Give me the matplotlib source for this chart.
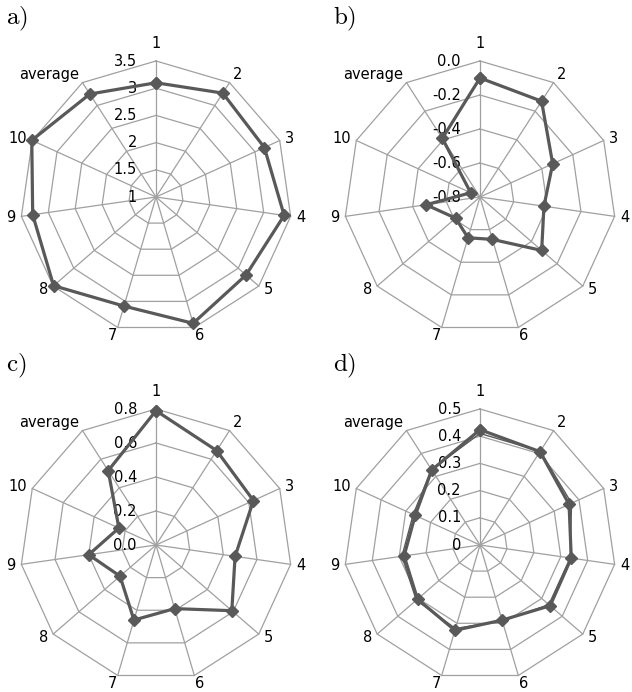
import numpy as np
import matplotlib
matplotlib.use('Agg')
import matplotlib.pyplot as plt

plt.rcParams['font.family'] = ['DejaVu Sans']
plt.rcParams['mathtext.fontset'] = 'cm'

categories = ['1', '2', '3', '4', '5', '6', '7', '8', '9', '10', 'average']

# panel a
a_vals = [3.10, 3.27, 3.19, 3.38, 3.19, 3.42, 3.09, 3.49, 3.29, 3.51, 3.25]
a_ticks = [1, 1.5, 2, 2.5, 3, 3.5]
a_labels = ['1', '1.5', '2', '2.5', '3', '3.5']

# panel b
b_vals = [-0.10, -0.13, -0.33, -0.42, -0.32, -0.54, -0.55, -0.61, -0.48, -0.74, -0.39]
b_ticks = [-0.8, -0.6, -0.4, -0.2, 0.0]
b_labels = ['-0.8', '-0.6', '-0.4', '-0.2', '0.0']

# panel c
c_vals = [0.79, 0.66, 0.63, 0.47, 0.59, 0.39, 0.46, 0.28, 0.40, 0.24, 0.52]
c_ticks = [0.0, 0.2, 0.4, 0.6, 0.8]
c_labels = ['0.0', '0.2', '0.4', '0.6', '0.8']

# panel d (two series, second one thin)
d_vals = [0.424, 0.408, 0.36, 0.339, 0.341, 0.288, 0.327, 0.304, 0.282, 0.262, 0.328]
d_vals2 = [0.41, 0.41, 0.37, 0.335, 0.335, 0.29, 0.32, 0.31, 0.29, 0.27, 0.33]
d_ticks = [0, 0.1, 0.2, 0.3, 0.4, 0.5]
d_labels = ['0', '0.1', '0.2', '0.3', '0.4', '0.5']

LINE = '#595959'
GRID = '#a0a0a0'

W, H = 632, 692
R = 136  # plot radius in pixels


def radar(fig, cx, cy, vals, ticks, tlabels, tag, tagpos, extra=None):
    ax = fig.add_axes([(cx - R) / W, (H - cy - R) / H, 2 * R / W, 2 * R / H],
                      projection='polar')
    ax.set_theta_zero_location('N')
    ax.set_theta_direction(-1)
    rmin, rmax = ticks[0], ticks[-1]
    ax.set_ylim(rmin, rmax)
    ax.grid(False)
    ax.spines['polar'].set_visible(False)
    ax.set_xticks([])
    ax.set_yticks([])
    ax.patch.set_alpha(0)

    n = len(categories)
    theta = np.arange(n) * 2 * np.pi / n
    tc = np.append(theta, theta[0])

    # polygon rings and spokes
    for t in ticks[1:]:
        ax.plot(tc, [t] * (n + 1), color=GRID, lw=0.9, zorder=1, clip_on=False)
    for th in theta:
        ax.plot([th, th], [rmin, rmax], color=GRID, lw=0.9, zorder=1, clip_on=False)

    # tick labels along the first axis
    for t, lab in zip(ticks, tlabels):
        ax.annotate(lab, xy=(0, t), xytext=(-19, 0), textcoords='offset pixels',
                    ha='right', va='center', fontsize=10.5, zorder=2)

    # category labels
    for th, lab in zip(theta, categories):
        s, c = np.sin(th), np.cos(th)
        ha = 'left' if s > 0.2 else ('right' if s < -0.2 else 'center')
        if c > 0.9:
            va, d = 'bottom', 10
        elif c < -0.9:
            va, d = 'top', 1
        else:
            va, d = 'center', 6
        ax.annotate(lab, xy=(th, rmax), xytext=(d * s, d * c + (3 if 0.5 < c < 0.9 else 0)),
                    textcoords='offset pixels', ha=ha, va=va, fontsize=10.5,
                    annotation_clip=False)

    if extra is not None:
        ax.plot(tc, np.append(extra, extra[0]), color=LINE, lw=1.0, zorder=3, clip_on=False)
    vc = np.append(vals, vals[0])
    ax.plot(tc, vc, color=LINE, lw=2.3, marker='D', markersize=6.5, zorder=4,
            clip_on=False)

    fig.text(tagpos[0] / W, 1 - tagpos[1] / H, r'$\mathrm{' + tag + ')}$',
             fontsize=18, ha='left', va='top')
    return ax


fig = plt.figure(figsize=(W / 100, H / 100), dpi=100)
radar(fig, 156, 197, a_vals, a_ticks, a_labels, 'a', (6, 5))
radar(fig, 480, 197, b_vals, b_ticks, b_labels, 'b', (333, 5))
radar(fig, 156, 545, c_vals, c_ticks, c_labels, 'c', (6, 352))
radar(fig, 480, 545, d_vals, d_ticks, d_labels, 'd', (333, 352), extra=d_vals2)

fig.savefig('out.png', dpi=100)
